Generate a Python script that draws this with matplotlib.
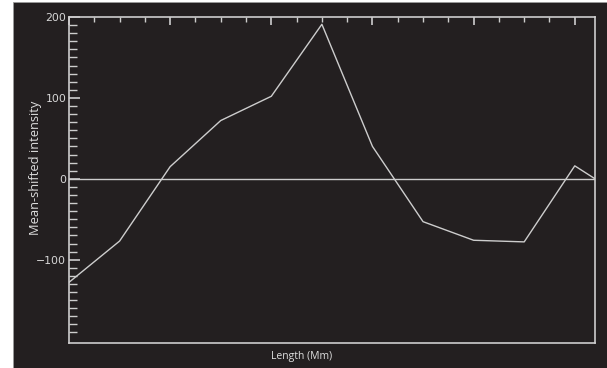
import numpy as np
import matplotlib.pyplot as plt
from matplotlib.patches import Rectangle
from matplotlib.ticker import MultipleLocator, FixedLocator

# profile along the loop, sampled every 0.5 Mm
length = [0.0, 0.5, 1.0, 1.5, 2.0, 2.5, 3.0, 3.5, 4.0, 4.5, 5.0, 5.2]
intensity = [-128, -77, 15, 72, 102, 191, 40, -53, -76, -78, 16, 0]

bg = '#231f20'
fg = '#cdcdcd'

fig = plt.figure(figsize=(6.07, 3.68), dpi=100, facecolor='white')
fig.add_artist(Rectangle((13 / 607, 0), 1 - 13 / 607, 1 - 2 / 368,
                         transform=fig.transFigure, facecolor=bg,
                         edgecolor='#9a9a9a', linewidth=0.6, zorder=-5))

ax = fig.add_axes([69 / 607, 25 / 368, 526 / 607, 326 / 368])
ax.set_facecolor(bg)

ax.plot(length, intensity, color=fg, linewidth=1.0, clip_on=True)
ax.axhline(0, color=fg, linewidth=1.0)

ax.set_xlim(0, 5.2)
ax.set_ylim(-203, 200)

ax.xaxis.set_major_locator(MultipleLocator(1))
ax.xaxis.set_minor_locator(MultipleLocator(0.25))
ax.tick_params(axis='x', which='both', top=True, bottom=False,
               labeltop=False, labelbottom=False, direction='in', color=fg)
ax.tick_params(axis='x', which='major', length=6, width=1.2)
ax.tick_params(axis='x', which='minor', length=3.5, width=1.0)

ax.yaxis.set_major_locator(FixedLocator([-100, 0, 100, 200]))
ax.yaxis.set_minor_locator(FixedLocator(np.arange(-190, 200, 10)))
ax.tick_params(axis='y', which='both', left=True, right=False,
               direction='in', color=fg, labelcolor='#d8d8d8', labelsize=7.8)
ax.tick_params(axis='y', which='major', length=8, width=1.2, pad=2)
ax.tick_params(axis='y', which='minor', length=5.5, width=1.0)

for s in ax.spines.values():
    s.set_color(fg)
    s.set_linewidth(1.2)

fig.text(36 / 607, 1 - 168 / 368, 'Mean-shifted intensity', rotation=90,
         ha='center', va='center', color='#dedede', fontsize=9.3,
         family='Open Sans')
fig.text(302 / 607, 1 - 357 / 368, 'Length (Mm)', ha='center', va='center',
         color='#dedede', fontsize=7.5, family='Open Sans')

fig.savefig('out.png', dpi=100, facecolor=fig.get_facecolor())
